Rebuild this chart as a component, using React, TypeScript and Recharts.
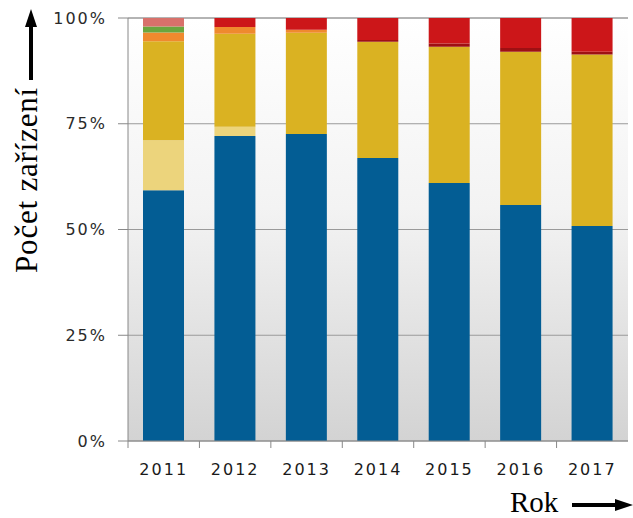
import { BarChart, Bar, XAxis, YAxis, CartesianGrid } from 'recharts';

const years = ['2011', '2012', '2013', '2014', '2015', '2016', '2017'];

// podíly v procentech, odspodu nahoru
const blue = [59.3, 72.1, 72.6, 66.9, 61.0, 55.8, 50.8];
const lightYellow = [11.8, 2.2, 0, 0, 0, 0, 0];
const yellow = [23.4, 22.0, 23.9, 27.5, 32.2, 36.2, 40.6];
const orange = [2.1, 1.6, 0.7, 0, 0, 0, 0];
const green = [1.4, 0, 0, 0, 0, 0, 0];
const pink = [2.0, 0, 0, 0, 0, 0, 0];
const darkRed = [0, 0, 0, 0.4, 0.8, 0.9, 0.6];
const red = [0, 2.1, 2.8, 5.2, 6.0, 7.1, 8.0];

const yTicks = [0, 25, 50, 75, 100];

const series = [
  { key: 'blue', values: blue, color: '#035d94' },
  { key: 'lightYellow', values: lightYellow, color: '#ecd47c' },
  { key: 'yellow', values: yellow, color: '#dab222' },
  { key: 'orange', values: orange, color: '#ef8a2e' },
  { key: 'green', values: green, color: '#6aa63e' },
  { key: 'pink', values: pink, color: '#d8716b' },
  { key: 'darkRed', values: darkRed, color: '#9e1013' },
  { key: 'red', values: red, color: '#cc1619' },
];

const data = years.map((year, i) => {
  const row: Record<string, string | number> = { year };
  series.forEach((s) => {
    row[s.key] = s.values[i];
  });
  return row;
});

const labelFont = 'DejaVu Sans, Verdana, sans-serif';
const titleFont = '"Liberation Serif", "Times New Roman", serif';

function YearTick(props: any) {
  const { x, y, payload } = props;
  const off = payload?.offset ?? 35.7;
  return (
    <g>
      <line x1={x - off} x2={x - off} y1={y - 7} y2={y} stroke="#888" />
      <text
        x={x}
        y={y + 27}
        textAnchor="middle"
        fontSize={16}
        fontFamily={labelFont}
        fill="#1a1a1a"
        style={{ letterSpacing: 2 }}
      >
        {payload.value}
      </text>
    </g>
  );
}

export default function App() {
  return (
    <div style={{ position: 'absolute', left: 0, top: 0, width: 633, height: 518, background: '#fff' }}>
      <BarChart
        width={633}
        height={518}
        data={data}
        margin={{ top: 18, right: 5, bottom: 47, left: 0 }}
      >
        <defs>
          <linearGradient id="plotBg" x1="0" y1="0" x2="0" y2="1">
            <stop offset="0%" stopColor="#ffffff" />
            <stop offset="45%" stopColor="#f3f3f3" />
            <stop offset="100%" stopColor="#d3d3d3" />
          </linearGradient>
        </defs>
        <CartesianGrid vertical={false} fill="url(#plotBg)" stroke="#9a9a9a" />
        <XAxis
          dataKey="year"
          interval={0}
          height={30}
          tickSize={7}
          tickMargin={0}
          tickLine={false}
          axisLine={{ stroke: '#888' }}
          tick={<YearTick />}
        />
        <YAxis
          type="number"
          domain={[0, 100]}
          ticks={yTicks}
          width={128}
          tickSize={10}
          tickMargin={11}
          tickFormatter={(v: number) => `${v}%`}
          axisLine={{ stroke: '#888' }}
          tickLine={{ stroke: '#888' }}
          tick={{ fontSize: 16, fill: '#2a2a2a', fontFamily: labelFont, letterSpacing: 2 }}
        />
        {series.map((s) => (
          <Bar key={s.key} dataKey={s.key} stackId="a" fill={s.color} barSize={41} isAnimationActive={false} />
        ))}
      </BarChart>
      <svg
        width={633}
        height={518}
        style={{ position: 'absolute', left: 0, top: 0, pointerEvents: 'none' }}
      >
        <text
          transform="translate(37,180) rotate(-90)"
          textAnchor="middle"
          fontSize={31}
          fontFamily={titleFont}
          fill="#000"
          style={{ letterSpacing: 0.8 }}
        >
          Počet zařízení
        </text>
        <line x1={31} y1={80} x2={31} y2={24} stroke="#000" strokeWidth={4} />
        <polygon points="31,9 25,27 37,27" fill="#000" />
        <text x={510} y={512} fontSize={29} fontFamily={titleFont} fill="#000">
          Rok
        </text>
        <line x1={572} y1={505} x2={618} y2={505} stroke="#000" strokeWidth={4} />
        <polygon points="633,505 615,499 615,511" fill="#000" />
      </svg>
    </div>
  );
}
